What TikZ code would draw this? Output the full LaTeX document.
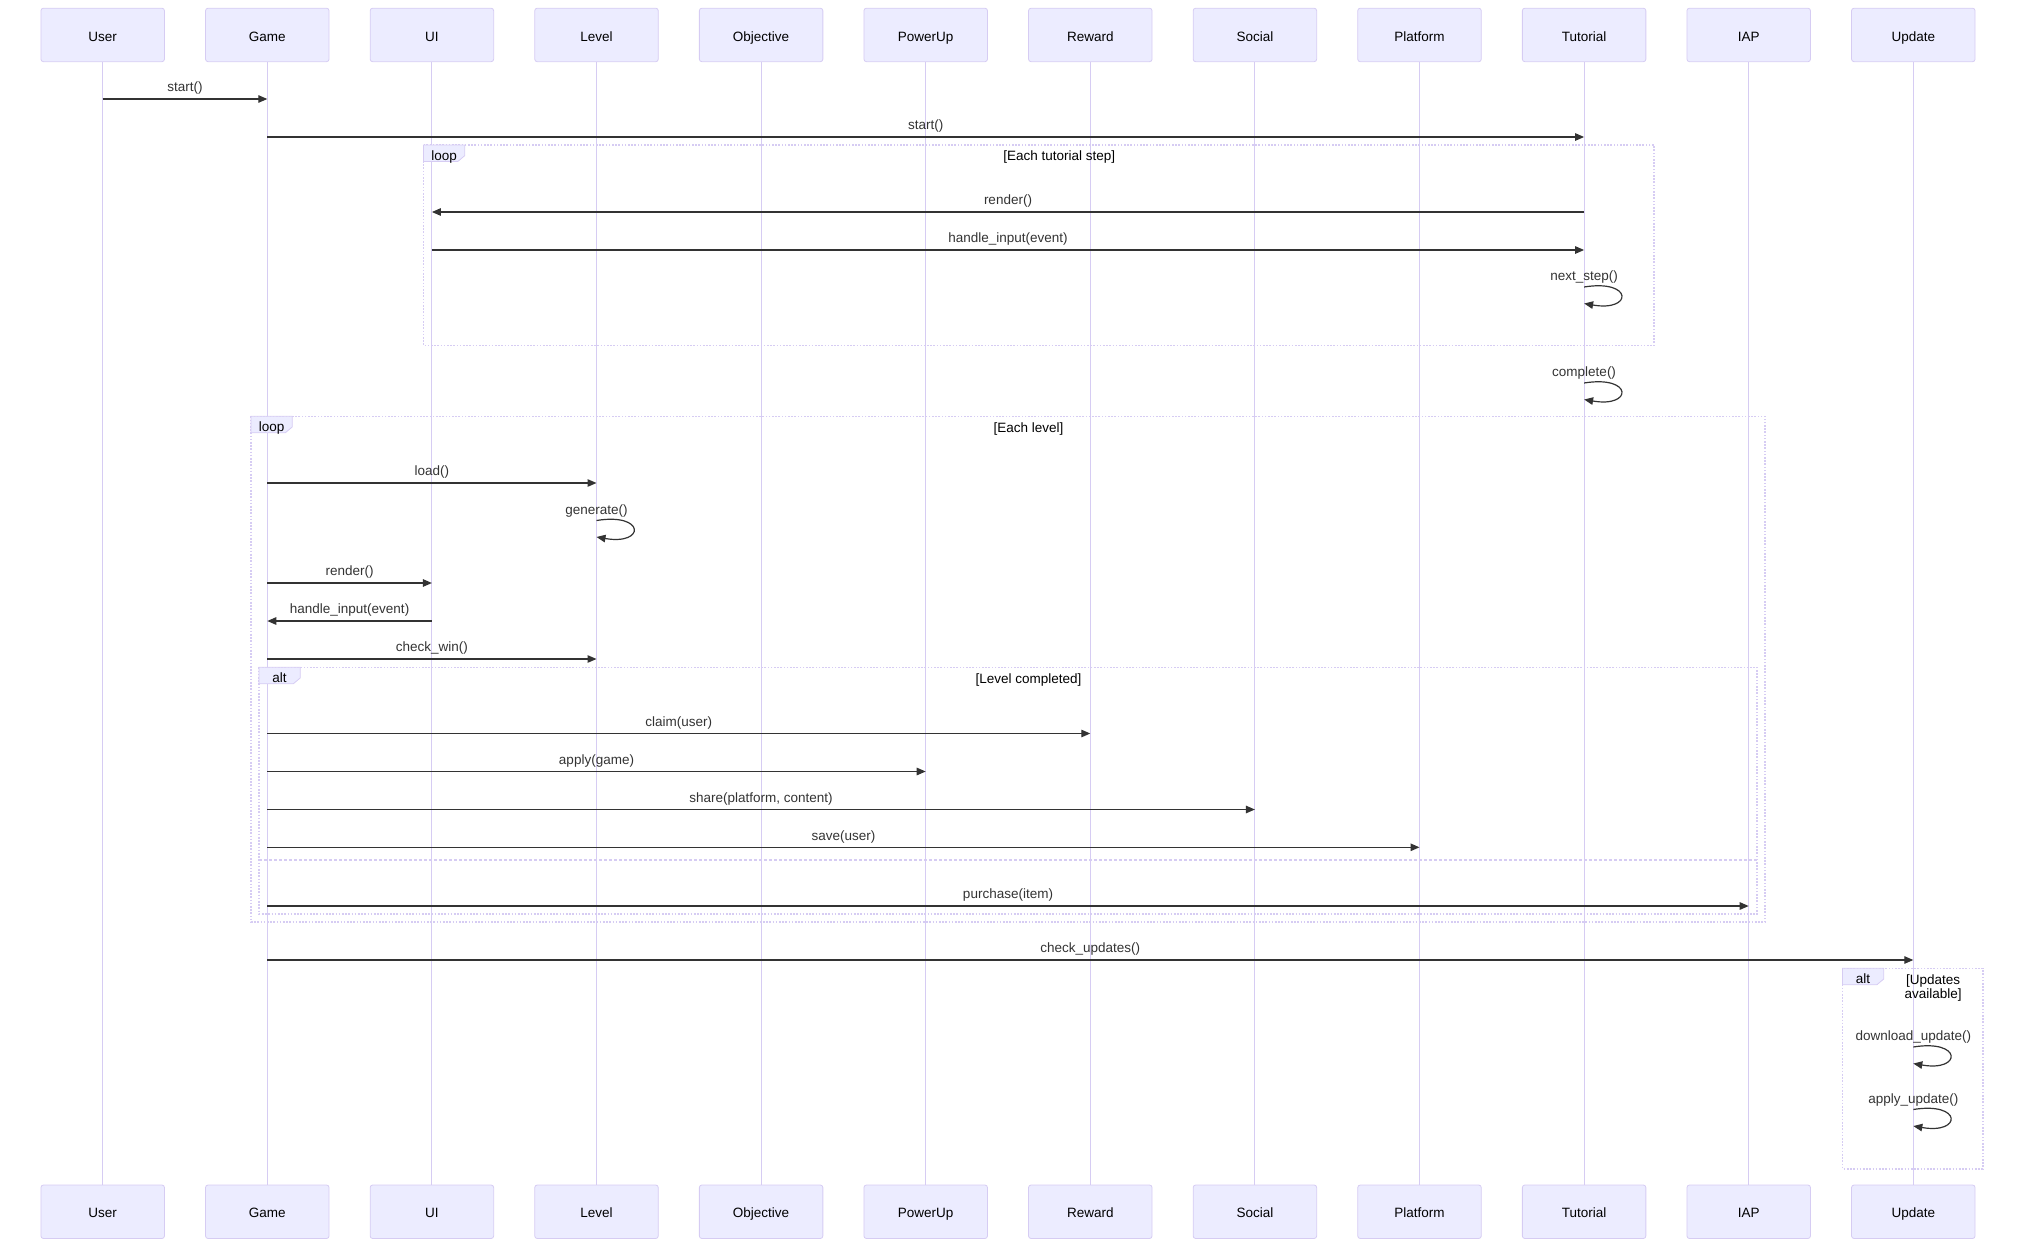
\documentclass[tikz,border=0pt]{standalone}
\usepackage{fontspec}
\setmainfont{Liberation Sans}
\usetikzlibrary{arrows.meta,calc}
\definecolor{actfill}{HTML}{ECECFF}
\definecolor{actline}{HTML}{D6CCF3}
\definecolor{msgcol}{HTML}{333333}
\newcommand\seqmsg[4]{%
  \draw[msg] (#1 |- 0,#3) -- (#2 |- 0,#3);
  \node[mlabel] at ($(#1 |- 0,#3)!0.5!(#2 |- 0,#3) + (0,-10.8)$) {#4};}
\newcommand\selfmsg[3]{%
  \draw[msg] (#1 |- 0,#2) .. controls +(49,-8) and +(49,8.5) .. (#1 |- 0,#2+16.5);
  \node[mlabel] at ($(#1 |- 0,#2) + (0,-9.8)$) {#3};}
\newcommand\seqframe[6]{% x1 y1 x2 y2 kind label
  \draw[frame] (#1,#2) rectangle (#3,#4);
  \draw[tabbox] (#1,#2) -- ++(41.2,0) -- ++(0,10.7) -- ++(-6.9,5.8) -- (#1,#2+16.5) -- cycle;
  \node[flabel] at (#1+20.6,#2+11.5) {#5};
  \node[flabel] at ({(#1+#3)/2+20.6},#2+12.3) {#6};}
\begin{document}
\begin{tikzpicture}[x=1pt,y=-1pt,
  font=\fontsize{13.5}{14}\selectfont,
  actor/.style={draw=actline, fill=actfill, line width=0.8pt, rounded corners=2.5pt,
    minimum width=123.5pt, minimum height=53.5pt, inner sep=0pt, text=black,
    text height=12.4pt, text depth=0pt},
  life/.style={draw=actline, line width=1.1pt},
  msg/.style={draw=msgcol, line width=1.2pt, -{Triangle[length=9pt,width=7.5pt]}},
  mlabel/.style={text=msgcol, inner sep=0pt, text height=10pt, text depth=3pt},
  flabel/.style={text=black, inner sep=0pt, text height=10pt, text depth=3pt},
  frame/.style={draw=actline, line width=1.6pt, dash pattern=on 1.6pt off 1.6pt},
  tabbox/.style={draw=actline, fill=actfill, line width=0.8pt},
  elseline/.style={draw=actline, line width=1.6pt, dash pattern=on 2.5pt off 2.5pt}]
\useasboundingbox (0,0) rectangle (2032,1253);
% participants and lifelines
\foreach \n/\t [count=\i from 0] in {user/User, game/Game, ui/UI, level/Level,
    objective/Objective, powerup/PowerUp, reward/Reward, social/Social,
    platform/Platform, tutorial/Tutorial, iap/IAP, update/Update} {
  \node[actor] (\n) at ({102.7+164.6*\i}, 34.95) {\t};
  \node[actor] (\n b) at ({102.7+164.6*\i}, 1211.75) {\t};
  \draw[life] (\n.south) -- (\n b.north);
}
% frames
\seqframe{423.5}{145}{1654}{345.5}{loop}{[Each tutorial step]}
\seqframe{251}{416.3}{1765}{922}{loop}{[Each level]}
\seqframe{259}{667.3}{1757}{914}{alt}{[Level completed]}
\draw[elseline] (259,860) -- (1757,860);
\draw[frame] (1842.5,968.3) rectangle (1982.7,1168.7);
\draw[tabbox] (1842.5,968.3) -- ++(41.2,0) -- ++(0,10.7) -- ++(-6.9,5.8) -- (1842.5,984.8) -- cycle;
\node[flabel] at (1863.1,979.8) {alt};
\node[text=black, inner sep=0pt, align=center] at (1933,988) {[Updates\\available]};
% messages
\seqmsg{user}{game}{99}{start()}
\seqmsg{game}{tutorial}{137}{start()}
\seqmsg{tutorial}{ui}{212}{render()}
\seqmsg{ui}{tutorial}{250}{handle\_input(event)}
\selfmsg{tutorial}{287}{next\_step()}
\selfmsg{tutorial}{383}{complete()}
\seqmsg{game}{level}{483}{load()}
\selfmsg{level}{520.5}{generate()}
\seqmsg{game}{ui}{583}{render()}
\seqmsg{ui}{game}{621}{handle\_input(event)}
\seqmsg{game}{level}{659}{check\_win()}
\seqmsg{game}{reward}{733.5}{claim(user)}
\seqmsg{game}{powerup}{771.5}{apply(game)}
\seqmsg{game}{social}{809.5}{share(platform, content)}
\seqmsg{game}{platform}{847.3}{save(user)}
\seqmsg{game}{iap}{906}{purchase(item)}
\seqmsg{game}{update}{960}{check\_updates()}
\selfmsg{update}{1047}{download\_update()}
\selfmsg{update}{1109.5}{apply\_update()}
\end{tikzpicture}
\end{document}
